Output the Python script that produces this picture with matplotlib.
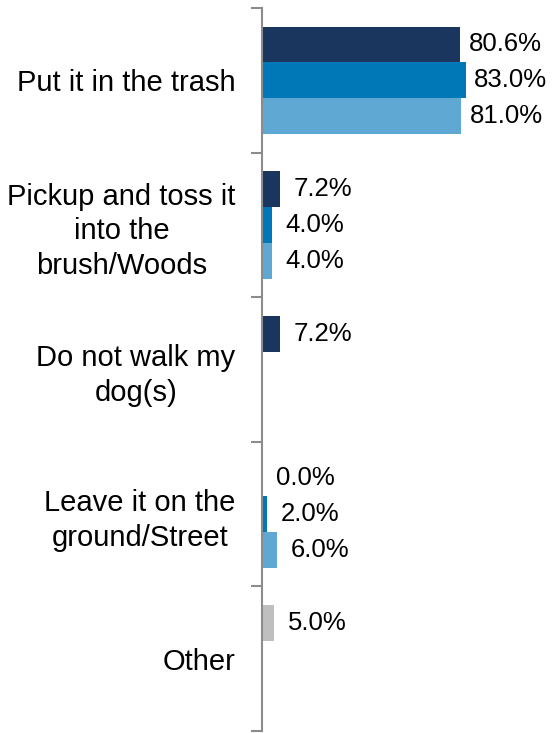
import numpy as np
import matplotlib
matplotlib.use("Agg")
import matplotlib.pyplot as plt

plt.rcParams['font.family'] = ['Liberation Sans', 'DejaVu Sans']

# Data
categories = ["Put it in the trash",
              "Pickup and toss it\ninto the\nbrush/Woods",
              "Do not walk my\ndog(s)",
              "Leave it on the\nground/Street",
              "Other"]
series_1 = [80.6, 7.2, 7.2, 0.0, 5.0]
series_2 = [83.0, 4.0, np.nan, 2.0, np.nan]
series_3 = [81.0, 4.0, np.nan, 6.0, np.nan]

colors = ["#1A365E", "#0077B6", "#5FA8D3"]
other_color = "#BFBFBF"

fig = plt.figure(figsize=(5.52, 7.33), dpi=100)
ax = fig.add_axes([262 / 552, 2 / 733, 290 / 552, 723 / 733])

y = np.arange(len(categories))
h = 0.248
all_series = [series_1, series_2, series_3]
for i, vals in enumerate(all_series):
    pos = y + (i - 1) * h
    cols = [colors[i]] * len(vals)
    if i == 0:
        cols[-1] = other_color
    for p, v, c in zip(pos, vals, cols):
        if np.isnan(v):
            continue
        ax.barh(p, v, height=h, color=c)
        # big bars sit close to the right edge, so keep their labels tighter
        off = 6 if v > 50 else 10
        ax.annotate(f"{v:.1f}%", xy=(v, p), xytext=(off, 0),
                    textcoords="offset points", va="center", ha="left",
                    fontsize=18.5)

ax.set_xlim(0, 118)
ax.set_ylim(len(categories) - 0.5, -0.5)

for s in ["top", "right", "bottom"]:
    ax.spines[s].set_visible(False)
ax.spines["left"].set_color("#8C8C8C")
ax.spines["left"].set_linewidth(1.5)
ax.set_xticks([])
ax.set_yticks(y)
ax.set_yticklabels(categories, fontsize=21, multialignment="center",
                   linespacing=1.3)
ax.tick_params(axis="y", which="major", length=0, pad=19)
ax.set_yticks(np.arange(-0.5, len(categories)), minor=True)
ax.tick_params(axis="y", which="minor", length=8, width=1.5, color="#8C8C8C")

fig.savefig("out.png", dpi=100)
